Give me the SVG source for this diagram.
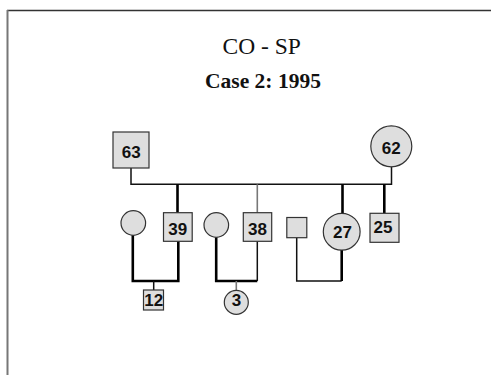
<svg xmlns="http://www.w3.org/2000/svg" width="491" height="375" viewBox="0 0 491 375">
<style>
.nd{fill:#dedede;stroke:#333;stroke-width:1.2}
.lb{font-family:"Liberation Sans",Arial,sans-serif;font-weight:bold;font-size:17px;text-anchor:middle;fill:#111}
.ln{fill:none;stroke:#111;stroke-width:1.5}
.tk{fill:none;stroke:#000;stroke-width:2.6}
.gr{fill:none;stroke:#777;stroke-width:1.6}
</style>
<rect width="491" height="375" fill="#fff"/>
<g id="frame">
<line x1="7" y1="10.5" x2="491" y2="10.5" stroke="#333" stroke-width="1.3"/>
<line x1="7.5" y1="10" x2="7.5" y2="375" stroke="#777" stroke-width="2"/>
</g>
<g id="title">
<text x="261.7" y="54" font-family="Liberation Serif,'Times New Roman',serif" font-size="23.5" text-anchor="middle" fill="#111">CO - SP</text>
<text x="263" y="88" font-family="Liberation Serif,'Times New Roman',serif" font-size="21.5" font-weight="bold" text-anchor="middle" fill="#111">Case 2: 1995</text>
</g>
<g id="connectors">
<polyline class="ln" points="131,168 131,184.3 391.5,184.3 391.5,163"/>
<line class="tk" x1="177.5" y1="184.3" x2="177.5" y2="212.7"/>
<line class="gr" x1="257.3" y1="184.3" x2="257.3" y2="212.7"/>
<line class="tk" x1="342.5" y1="184.3" x2="342.5" y2="213.3"/>
<line class="tk" x1="384.3" y1="184.3" x2="384.3" y2="213.3"/>
<polyline class="tk" points="132.8,235 132.8,281 178.3,281 178.3,241.3"/>
<line class="ln" x1="153.7" y1="281" x2="153.7" y2="290"/>
<polyline class="tk" points="216.2,237.3 216.2,281 257.3,281"/>
<line class="ln" x1="257.3" y1="241.3" x2="257.3" y2="281"/>
<line class="gr" x1="236.3" y1="281" x2="236.3" y2="292"/>
<polyline class="ln" points="296.7,237.7 296.7,281 341.7,281"/>
<line class="tk" x1="341.7" y1="250" x2="341.7" y2="281"/>
</g>
<g id="n63"><rect class="nd" x="113" y="132" width="36" height="36"/><text class="lb" x="131.3" y="158.3" font-size="18">63</text></g>
<g id="n62"><circle class="nd" cx="391.3" cy="146.3" r="20.5"/><text class="lb" x="391.3" y="153.5" font-size="18">62</text></g>
<g id="w1"><circle class="nd" cx="133.3" cy="223" r="12.3"/></g>
<g id="n39"><rect class="nd" x="163.5" y="212.7" width="28.7" height="28.6"/><text class="lb" x="177.8" y="235">39</text></g>
<g id="w2"><circle class="nd" cx="216.3" cy="225" r="12.3"/></g>
<g id="n38"><rect class="nd" x="243.3" y="212.7" width="28.4" height="28.6"/><text class="lb" x="257.5" y="235">38</text></g>
<g id="h3"><rect class="nd" x="286.8" y="217.5" width="20" height="20.2"/></g>
<g id="n27"><circle class="nd" cx="341.7" cy="231.7" r="18.4"/><text class="lb" x="342.5" y="238.3">27</text></g>
<g id="n25"><rect class="nd" x="370" y="213.3" width="29" height="29"/><text class="lb" x="383" y="233">25</text></g>
<g id="n12"><rect class="nd" x="143.5" y="290" width="20" height="20"/><text class="lb" x="153.7" y="306.3" font-size="17">12</text></g>
<g id="n3"><circle class="nd" cx="236.3" cy="302.3" r="12"/><text class="lb" x="236.5" y="306" font-size="15.5">3</text></g>
</svg>
